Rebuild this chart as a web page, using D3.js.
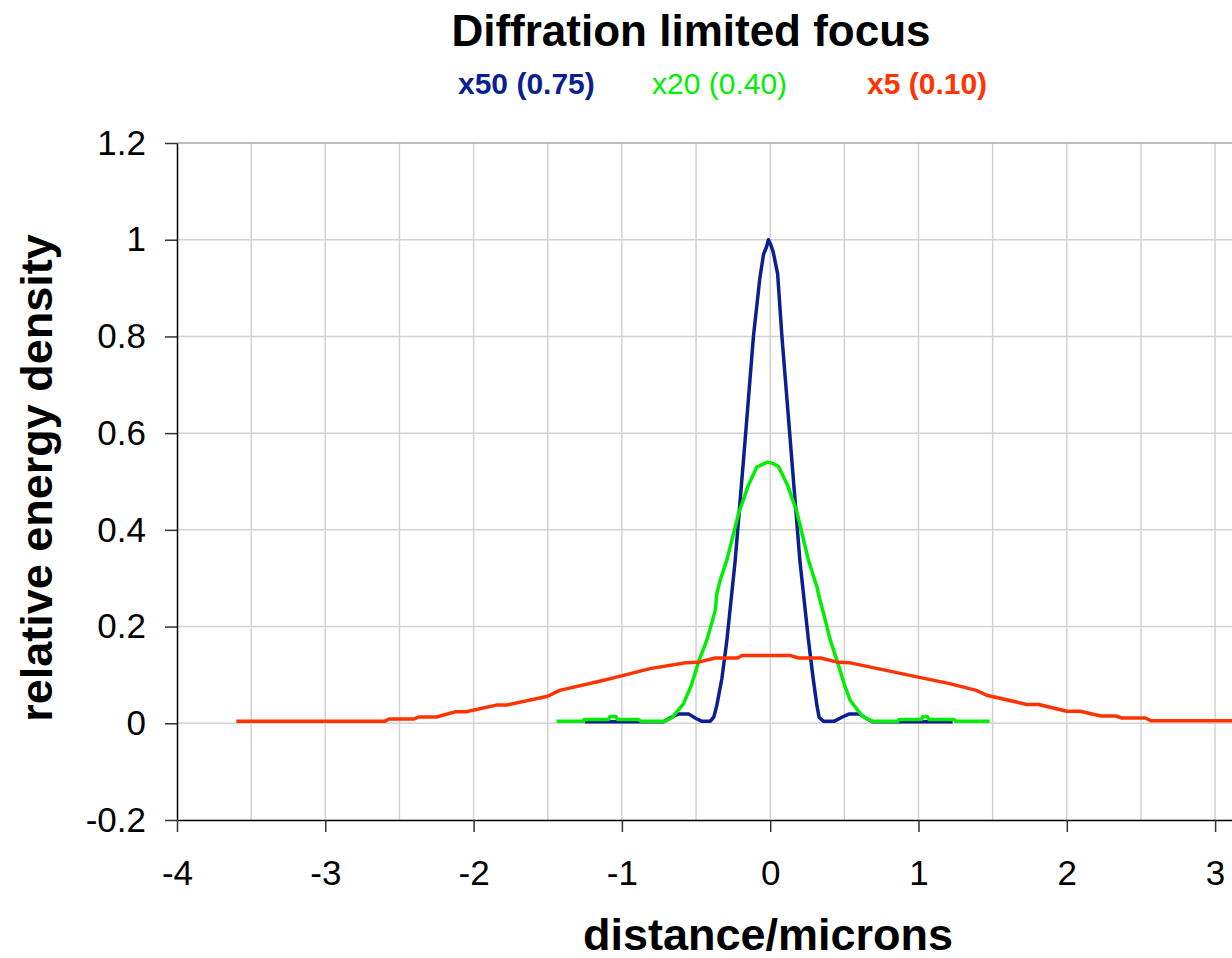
<!DOCTYPE html>
<meta charset="utf-8">
<script src="https://d3js.org/d3.v7.min.js"></script>
<style>
  body { margin: 0; background: #fff; }
  text { font-family: "Liberation Sans", Arial, sans-serif; }
</style>
<div id="chart"></div>
<script>

// ---- data (x in microns, y relative energy density) ----
const x50 = [[-1.25,0.003],[-0.72,0.003],[-0.67,0.012],[-0.62,0.019],[-0.55,0.019],[-0.5,0.01],[-0.46,0.004],
  [-0.405,0.004],[-0.38,0.013],[-0.36,0.037],[-0.326,0.092],[-0.292,0.172],[-0.236,0.337],[-0.169,0.586],
  [-0.113,0.8],[-0.07,0.92],[-0.045,0.97],[-0.025,0.985],[-0.012,1.0],[0.003,0.99],[0.02,0.975],[0.05,0.93],
  [0.079,0.8],[0.135,0.586],[0.2,0.337],[0.258,0.172],[0.29,0.092],[0.315,0.037],[0.33,0.012],[0.36,0.004],
  [0.43,0.004],[0.48,0.012],[0.53,0.019],[0.6,0.019],[0.65,0.01],[0.69,0.003],[1.23,0.003]];

const x20 = [[-1.44,0.004],[-1.26,0.004],[-1.255,0.008],[-1.09,0.008],[-1.08,0.014],[-1.04,0.014],[-1.03,0.008],
  [-0.89,0.008],[-0.87,0.004],[-0.71,0.004],[-0.66,0.012],[-0.585,0.04],[-0.53,0.08],[-0.48,0.13],
  [-0.427,0.172],[-0.37,0.234],[-0.36,0.268],[-0.337,0.296],[-0.29,0.34],[-0.214,0.433],[-0.15,0.49],
  [-0.09,0.53],[-0.018,0.54],[0.02,0.537],[0.056,0.531],[0.12,0.49],[0.18,0.437],[0.258,0.337],[0.315,0.282],
  [0.33,0.261],[0.36,0.227],[0.405,0.172],[0.45,0.13],[0.5,0.08],[0.54,0.047],[0.62,0.015],[0.69,0.004],
  [0.86,0.004],[0.87,0.008],[1.02,0.008],[1.03,0.014],[1.06,0.014],[1.07,0.008],[1.24,0.008],[1.25,0.004],
  [1.48,0.004]];

const x5 = [[-3.6,0.004],[-2.6,0.004],[-2.57,0.009],[-2.4,0.009],[-2.37,0.013],[-2.25,0.013],[-2.12,0.024],
  [-2.05,0.024],[-1.84,0.038],[-1.77,0.038],[-1.5,0.056],[-1.42,0.068],[-1.15,0.087],[-1.03,0.096],
  [-0.81,0.113],[-0.57,0.125],[-0.49,0.126],[-0.37,0.135],[-0.22,0.135],[-0.19,0.14],[0.14,0.14],
  [0.19,0.135],[0.34,0.135],[0.46,0.126],[0.54,0.125],[0.99,0.096],[1.21,0.082],[1.39,0.068],[1.46,0.058],
  [1.73,0.039],[1.81,0.039],[2.0,0.025],[2.09,0.025],[2.23,0.015],[2.33,0.015],[2.37,0.011],[2.53,0.011],
  [2.57,0.005],[3.6,0.005]];

const seriesNames = ["x50 (0.75)", "x20 (0.40)", "x5 (0.10)"];
const xTicks = [-4, -3, -2, -1, 0, 1, 2, 3, 4];
const xGrid = [-3.5, -3, -2.5, -2, -1.5, -1, -0.5, 0, 0.5, 1, 1.5, 2, 2.5, 3, 3.5];
const yTicks = [-0.2, 0, 0.2, 0.4, 0.6, 0.8, 1, 1.2];

// ---- layout ----
const W = 1232, H = 958;
const svg = d3.select("#chart").append("svg")
  .attr("width", W).attr("height", H);

// plot runs past the right edge (picture is cropped there)
const x = d3.scaleLinear().domain([-4, 4]).range([177, 177 + 8 * 148.3]);
const y = d3.scaleLinear().domain([-0.2, 1.2]).range([820, 143]);

// grid
svg.append("g").selectAll("line").data(xGrid).join("line")
  .attr("x1", d => x(d)).attr("x2", d => x(d))
  .attr("y1", y(1.2)).attr("y2", y(-0.2))
  .attr("stroke", "#d2d2d2").attr("stroke-width", 1.5);
svg.append("g").selectAll("line").data(yTicks.filter(d => d > -0.2)).join("line")
  .attr("x1", x(-4)).attr("x2", x(4))
  .attr("y1", d => y(d)).attr("y2", d => y(d))
  .attr("stroke", d => d === 1.2 ? "#a8a8a8" : "#d2d2d2").attr("stroke-width", 1.5);

// axes
const yAxis = svg.append("g")
  .attr("transform", `translate(${x(-4)},0)`)
  .call(d3.axisLeft(y).tickValues(yTicks).tickFormat(d => String(d))
    .tickSize(12).tickSizeOuter(0).tickPadding(19));
const xAxis = svg.append("g")
  .attr("transform", `translate(0,${y(-0.2)})`)
  .call(d3.axisBottom(x).tickValues(xTicks).tickFormat(d => String(d))
    .tickSize(12).tickSizeOuter(0).tickPadding(28));
[xAxis, yAxis].forEach(a => {
  a.select(".domain").attr("stroke", "#000").attr("stroke-width", 1.5);
  a.selectAll(".tick line").attr("stroke", "#333").attr("stroke-width", 1.5);
  a.selectAll("text").attr("font-size", 35).attr("fill", "#000")
    .attr("font-family", "'Liberation Sans', Arial, sans-serif");
});

// lines
const line = d3.line().x(d => x(d[0])).y(d => y(d[1]));
const colors = ["#0a1f91", "#00ee00", "#ff3300"];
[x50, x20, x5].forEach((s, i) => {
  svg.append("path").datum(s)
    .attr("d", line)
    .attr("fill", "none")
    .attr("stroke", colors[i])
    .attr("stroke-width", 3.5)
    .attr("stroke-linejoin", "round");
});

// title
svg.append("text")
  .attr("x", 691).attr("y", 46)
  .attr("text-anchor", "middle")
  .attr("font-size", 44).attr("font-weight", "bold")
  .text("Diffration limited focus");

// legend (text only, coloured like the series)
const legendX = [458, 652, 867];
const legendWeight = ["bold", "normal", "bold"];
svg.append("g").selectAll("text").data(seriesNames).join("text")
  .attr("x", (d, i) => legendX[i]).attr("y", 94)
  .attr("font-size", 30)
  .attr("font-weight", (d, i) => legendWeight[i])
  .attr("fill", (d, i) => colors[i])
  .text(d => d);

// axis titles
svg.append("text")
  .attr("x", 768).attr("y", 950)
  .attr("text-anchor", "middle")
  .attr("font-size", 45).attr("font-weight", "bold")
  .text("distance/microns");

svg.append("text")
  .attr("transform", "translate(52,478) rotate(-90)")
  .attr("text-anchor", "middle")
  .attr("font-size", 45).attr("font-weight", "bold")
  .text("relative energy density");

</script>
